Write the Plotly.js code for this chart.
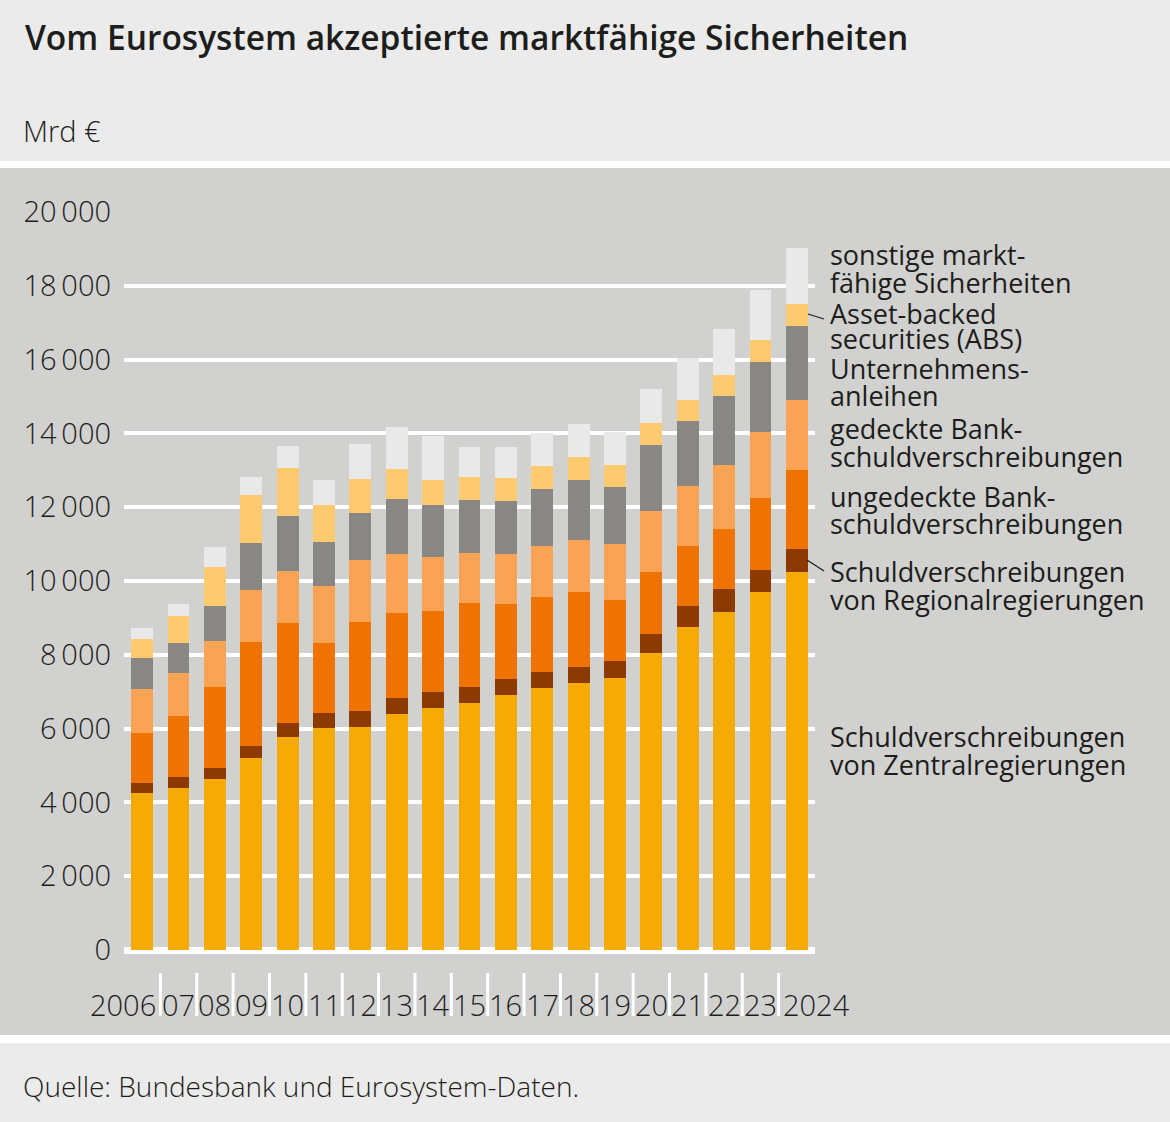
<!DOCTYPE html>
<html>
<head>
<meta charset="utf-8">
<script src="https://cdn.plot.ly/plotly-3.0.1.min.js"></script>
<style>
html,body{margin:0;padding:0;background:#ebebeb;}
#chart{width:1170px;height:1122px;}
</style>
</head>
<body>
<div id="chart"></div>
<script>
// ---- data (Mrd €) ----
const years = ["2006","07","08","09","10","11","12","13","14","15","16","17","18","19","20","21","22","23","2024"];
const central   = [4250,4400,4630,5210,5780,6020,6040,6400,6560,6690,6910,7100,7240,7370,8050,8750,9170,9710,10240];
const regional  = [270,290,300,330,380,410,440,420,430,430,430,430,430,460,510,580,600,600,630];
const unsecured = [1370,1640,2190,2820,2710,1880,2410,2320,2200,2280,2040,2040,2030,1660,1690,1610,1650,1950,2150];
const covered   = [1180,1190,1260,1400,1400,1550,1670,1590,1460,1370,1350,1380,1400,1510,1650,1630,1720,1780,1880];
const corporate = [830,810,940,1270,1490,1210,1280,1490,1400,1430,1440,1550,1650,1560,1790,1770,1870,1890,2020];
const abs       = [520,720,1060,1300,1290,990,920,810,690,630,620,630,620,590,580,570,570,600,600];
const other     = [300,330,550,490,610,680,950,1140,1200,810,840,880,880,880,920,1130,1250,1360,1500];

const seriesNames = [
  "Schuldverschreibungen von Zentralregierungen",
  "Schuldverschreibungen von Regionalregierungen",
  "ungedeckte Bankschuldverschreibungen",
  "gedeckte Bankschuldverschreibungen",
  "Unternehmensanleihen",
  "Asset-backed securities (ABS)",
  "sonstige marktfähige Sicherheiten"
];
const yTickVals = [0,2000,4000,6000,8000,10000,12000,14000,16000,18000,20000];
const yTickText = ["0","2\u2009000","4\u2009000","6\u2009000","8\u2009000","10\u2009000","12\u2009000","14\u2009000","16\u2009000","18\u2009000","20\u2009000"];
const legendLines = [
  ["sonstige markt-", "fähige Sicherheiten"],
  ["Asset-backed", "securities (ABS)"],
  ["Unternehmens-", "anleihen"],
  ["gedeckte Bank-", "schuldverschreibungen"],
  ["ungedeckte Bank-", "schuldverschreibungen"],
  ["Schuldverschreibungen", "von Regionalregierungen"],
  ["Schuldverschreibungen", "von Zentralregierungen"]
];
const titleText = "Vom Eurosystem akzeptierte marktfähige Sicherheiten";
const unitText = "Mrd €";
const sourceText = "Quelle: Bundesbank und Eurosystem-Daten.";

// ---- styles ----
const colors = ["#f5aa05","#8c3a00","#ef7300","#fba354","#888784","#fdca70","#e9e9e9"];
const W = 1170, H = 1122;
const M = {l:124, r:355, t:212, b:172};
const PW = W - M.l - M.r, PH = H - M.t - M.b;
const px = x => (x - M.l) / PW;
const py = y => (H - M.b - y) / PH;

const TXT = "#1d1d1b";
const FONT = "Open Sans, Noto Sans, Liberation Sans, sans-serif";

const values = [central, regional, unsecured, covered, corporate, abs, other];
const traces = values.map((v, i) => ({
  type: "bar",
  x: years,
  y: v,
  name: seriesNames[i],
  marker: {color: colors[i], line: {width: 0}},
  hoverinfo: "x+y+name"
}));

const shapes = [
  {type:"rect", xref:"paper", yref:"paper", x0:px(0), x1:px(W), y0:py(1035), y1:py(168), fillcolor:"#d1d1d0", line:{width:0}, layer:"below"},
  {type:"rect", xref:"paper", yref:"paper", x0:px(0), x1:px(W), y0:py(168), y1:py(161), fillcolor:"#ffffff", line:{width:0}, layer:"below"},
  {type:"rect", xref:"paper", yref:"paper", x0:px(0), x1:px(W), y0:py(1043), y1:py(1035), fillcolor:"#ffffff", line:{width:0}, layer:"below"},
  // leader lines
  {type:"line", xref:"paper", yref:"paper", x0:px(808), x1:px(824), y0:py(314), y1:py(319), line:{color:TXT, width:1.3}},
  {type:"line", xref:"paper", yref:"paper", x0:px(807), x1:px(824), y0:py(560), y1:py(571), line:{color:TXT, width:1.3}}
];
// category separator ticks
for (let i = 1; i < years.length; i++) {
  shapes.push({type:"line", xref:"x", yref:"paper", x0:i-0.5, x1:i-0.5, y0:py(973), y1:py(1016), line:{color:"#ffffff", width:3}, layer:"below"});
}

const annotations = [
  {text:titleText, xref:"paper", yref:"paper", x:px(23), y:py(37), xanchor:"left", yanchor:"middle", showarrow:false, font:{family:FONT, size:33.5, color:TXT, weight:600}},
  {text:unitText, xref:"paper", yref:"paper", x:px(21), y:py(131), xanchor:"left", yanchor:"middle", showarrow:false, font:{family:FONT, size:29, color:TXT, weight:300}},
  {text:sourceText, xref:"paper", yref:"paper", x:px(21), y:py(1086), xanchor:"left", yanchor:"middle", showarrow:false, font:{family:FONT, size:28, color:TXT, weight:300}}
];
const legendY = [[254,282],[313,338],[368,395],[428,456],[496,523],[571,599],[736,764]];
legendLines.forEach((pair, i) => {
  pair.forEach((t, j) => {
    annotations.push({text:t, xref:"paper", yref:"paper", x:px(828), y:py(legendY[i][j]), xanchor:"left", yanchor:"middle", showarrow:false, font:{family:FONT, size:27, color:TXT}});
  });
});
// category labels: first right-aligned to its separator, last left-aligned, others centred
const n = years.length;
years.forEach((lab, i) => {
  let x = i, xa = "center", xs = 0;
  if (i === 0) { x = 0.5; xa = "right"; xs = -2; }
  if (i === n - 1) { x = n - 1.5; xa = "left"; xs = 2; }
  annotations.push({text:lab, xref:"x", yref:"paper", x:x, xshift:xs, y:py(1004), xanchor:xa, yanchor:"middle", showarrow:false, font:{family:FONT, size:29, color:TXT, weight:300}});
});

const layout = {
  width: W, height: H,
  margin: M,
  paper_bgcolor: "#ebebeb",
  plot_bgcolor: "rgba(0,0,0,0)",
  barmode: "stack",
  bargap: 0.4,
  showlegend: false,
  font: {family: FONT, color: TXT},
  xaxis: {
    type: "category",
    range: [-0.5, years.length - 0.5],
    showgrid: false, zeroline: false, showline: false, ticks: "",
    showticklabels: false
  },
  yaxis: {
    range: [0, 20000],
    tickvals: yTickVals, ticktext: yTickText,
    showgrid: true, gridcolor: "#ffffff", gridwidth: 4,
    zeroline: true, zerolinecolor: "#ffffff", zerolinewidth: 7,
    showline: false, ticks: "",
    tickfont: {family: FONT, size: 29, color: TXT, weight: 300},
    ticklabelstandoff: 12
  },
  shapes: shapes,
  annotations: annotations
};

Plotly.newPlot("chart", traces, layout, {displayModeBar: false, staticPlot: true});
</script>
</body>
</html>
